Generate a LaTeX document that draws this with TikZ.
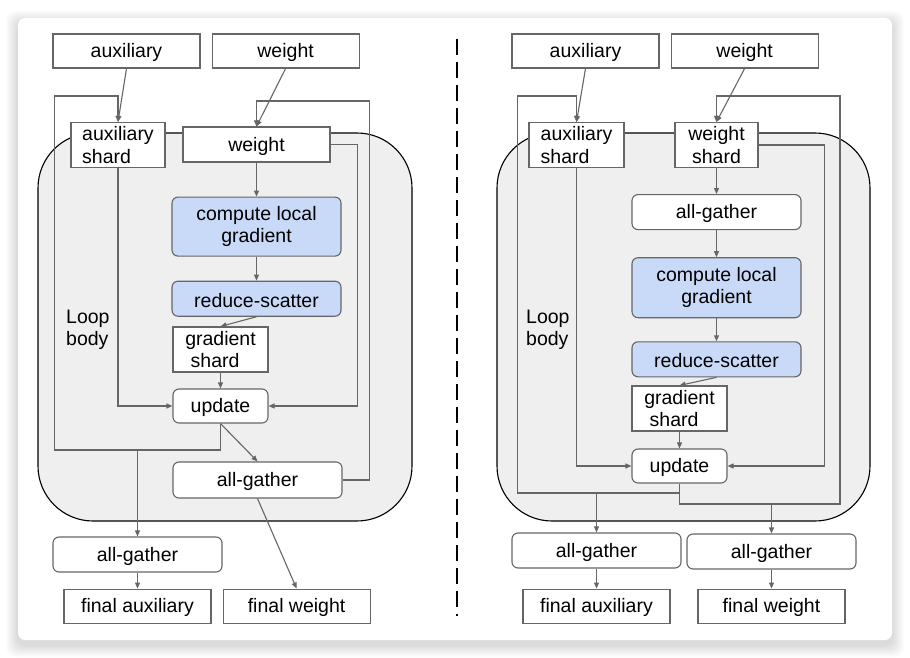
\documentclass[tikz,border=0pt]{standalone}
\usepackage{fontspec}
\setmainfont{Liberation Sans}
\usepackage{tikz}
\usetikzlibrary{positioning, arrows.meta, calc}
\definecolor{edgegray}{RGB}{102, 102, 102}
\definecolor{computeblue}{RGB}{201, 218, 248}
\definecolor{loopfill}{RGB}{239, 239, 239}
\newcommand{\diagfont}{\fontsize{19.5}{22.4}\selectfont}

\begin{document}
\begin{tikzpicture}[
    x=1pt, y=-1pt,
    >={Triangle[length=6pt, width=5pt]},
    % -------------------------------------------------
    % Node styles
    % -------------------------------------------------
    boxbase/.style={
        rectangle,
        draw=edgegray,
        line width=1.1pt,
        fill=white,
        inner sep=0pt,
        align=center,
        font=\diagfont
    },
    oneline/.style={
        text height=17.5pt
    },
    databox/.style={
        boxbase,
        oneline,
        minimum width=147pt,
        minimum height=34pt
    },
    shardbox/.style={
        boxbase,
        minimum width=95pt,
        minimum height=45pt
    },
    opbox/.style={
        databox,
        rounded corners=6pt,
        minimum width=169pt,
        minimum height=35pt
    },
    computebox/.style={
        boxbase,
        rounded corners=6pt,
        fill=computeblue,
        minimum width=169pt,
        minimum height=35pt
    },
    % -------------------------------------------------
    % Containers
    % -------------------------------------------------
    card/.style={
        rectangle,
        rounded corners=7pt,
        fill=white,
        minimum width=874pt,
        minimum height=622pt
    },
    loopbody/.style={
        rectangle,
        rounded corners=55pt,
        draw=black,
        line width=1.1pt,
        fill=loopfill,
        minimum width=374pt,
        minimum height=388pt
    },
    looplabel/.style={
        font=\diagfont,
        align=left,
        inner sep=0pt,
        anchor=west
    },
    % -------------------------------------------------
    % Connections
    % -------------------------------------------------
    arrow/.style={
        ->,
        line width=1.1pt,
        draw=edgegray
    },
    divider/.style={
        line width=2pt,
        dash pattern=on 16pt off 7pt
    }
]

\useasboundingbox (0,0) rectangle (910,658);
\fill[white] (0,0) rectangle (910,658);

% =====================================================
% Card
% =====================================================

\foreach \s in {1,...,12}
    \fill[black, opacity=0.013, rounded corners=9pt]
        (18-\s, 23-\s) rectangle (892+\s, 645+\s);

\node[card] (card) at (455,329) {};

\coordinate (divtop) at (457,39);
\coordinate (divbottom) at (457,616);
\draw[divider] (divtop) -- (divbottom);

% =====================================================
% Left: loop body
% =====================================================

\node[loopbody] (lloop) at (225,327) {};
\node[looplabel] (llooplabel) at (66,330) {Loop\\body};

% =====================================================
% Left: inputs
% =====================================================

\node[databox] (ltopaux) at (126.5,51) {auxiliary};
\node[databox, right=11pt of ltopaux] (ltopweight) {weight};

\node[shardbox, minimum width=94pt, align=left] (lauxshard) at (118,145)
    {auxiliary\\shard};
\node[databox, minimum height=35pt] (lweight) at (256.5,144.5) {weight};

% =====================================================
% Left: step
% =====================================================

\node[computebox, minimum height=59pt, below=34pt of lweight] (lcompute)
    {compute local\\gradient};

\node[computebox, oneline, below=24pt of lcompute] (lreduce)
    {reduce-scatter};

\node[shardbox, align=left] (lgradshard) at (220.5,349.5)
    {gradient\\\hspace*{0.28em}shard};

\node[opbox, minimum width=95pt, minimum height=34pt] (lupdate) at (220.5,406)
    {update};

\node[opbox, minimum height=36pt] (lgather) at (257.5,480)
    {all-gather};

% =====================================================
% Left: outputs
% =====================================================

\node[opbox] (lgatherout) at (137.5,554.5) {all-gather};
\node[databox, below=16pt of lgatherout] (lfinalaux) {final auxiliary};
\node[databox, right=11pt of lfinalaux] (lfinalweight) {final weight};

% =====================================================
% Left: connections
% =====================================================

\draw[arrow] (ltopaux.south) -- (lauxshard.north);
\draw[arrow] (ltopweight.south) -- (lweight.north);

\draw[arrow] (lweight) -- (lcompute);
\draw[arrow] (lcompute) -- (lreduce);
\draw[arrow] (lreduce.south) -- (lgradshard.north);
\draw[arrow] (lgradshard) -- (lupdate);

\draw[arrow] (lauxshard.south) |- (lupdate.west);
\draw[arrow] (lweight.east) -- ++(27,0) |- (lupdate.east);

\draw[arrow] (lupdate.south) -- (lgather.north);

% loop back of the auxiliary shard
\coordinate (lauxback) at (54.5,450);
\draw[arrow] (lupdate.south) |- (lauxback) -- ++(0,-354) -| (lauxshard.north);
\draw[arrow] (lgatherout.north |- lauxback) -- (lgatherout.north);

% loop back of the weight
\draw[arrow] (lgather.east) -- ++(27,0) -- ++(0,-379) -| (lweight.north);

\draw[arrow] (lgather.south) -- (lfinalweight.north);
\draw[arrow] (lgatherout) -- (lfinalaux);

% =====================================================
% Right: loop body
% =====================================================

\node[loopbody, minimum width=373pt] (rloop) at (683.5,327) {};
\node[looplabel] (rlooplabel) at (526,330) {Loop\\body};

% =====================================================
% Right: inputs
% =====================================================

\node[databox] (rtopaux) at (585.5,51) {auxiliary};
\node[databox, right=11pt of rtopaux] (rtopweight) {weight};

\node[shardbox, align=left] (rauxshard) at (576.5,145)
    {auxiliary\\shard};
\node[shardbox, minimum width=83pt] (rweightshard) at (716.5,145)
    {weight\\shard};

% =====================================================
% Right: step
% =====================================================

\node[opbox, below=26pt of rweightshard] (rgatherin) {all-gather};

\node[computebox, minimum height=60pt, below=27pt of rgatherin] (rcompute)
    {compute local\\gradient};

\node[computebox, oneline, below=23pt of rcompute] (rreduce)
    {reduce-scatter};

\node[shardbox, align=left] (rgradshard) at (679.5,408.5)
    {gradient\\\hspace*{0.28em}shard};

\node[opbox, minimum width=95pt, minimum height=34pt] (rupdate) at (679.5,466)
    {update};

% =====================================================
% Right: outputs
% =====================================================

\node[opbox] (rgatheraux) at (596.5,550.5) {all-gather};
\node[opbox] (rgatherweight) at (771.5,551.5) {all-gather};

\node[databox, below=20pt of rgatheraux] (rfinalaux) {final auxiliary};
\node[databox, below=19pt of rgatherweight] (rfinalweight) {final weight};

% =====================================================
% Right: connections
% =====================================================

\draw[arrow] (rtopaux.south) -- (rauxshard.north);
\draw[arrow] (rtopweight.south) -- (rweightshard.north);

\draw[arrow] (rweightshard) -- (rgatherin);
\draw[arrow] (rgatherin) -- (rcompute);
\draw[arrow] (rcompute) -- (rreduce);
\draw[arrow] (rreduce.south) -- (rgradshard.north);
\draw[arrow] (rgradshard) -- (rupdate);

\draw[arrow] (rauxshard.south) |- (rupdate.west);
\draw[arrow] (rweightshard.east) -- ++(66,0) |- (rupdate.east);

% loop back of the auxiliary shard
\coordinate (rauxback) at (517.5,493);
\draw[arrow] (rupdate.south) |- (rauxback) -- ++(0,-397) -| (rauxshard.north);
\draw[arrow] (rgatheraux.north |- rauxback) -- (rgatheraux.north);

% loop back of the weight shard
\coordinate (rweightback) at (840,504);
\draw[arrow] (rupdate.south) |- (rweightback) -- ++(0,-408) -| (rweightshard.north);
\draw[arrow] (rgatherweight.north |- rweightback) -- (rgatherweight.north);

\draw[arrow] (rgatheraux) -- (rfinalaux);
\draw[arrow] (rgatherweight) -- (rfinalweight);

\end{tikzpicture}
\end{document}
